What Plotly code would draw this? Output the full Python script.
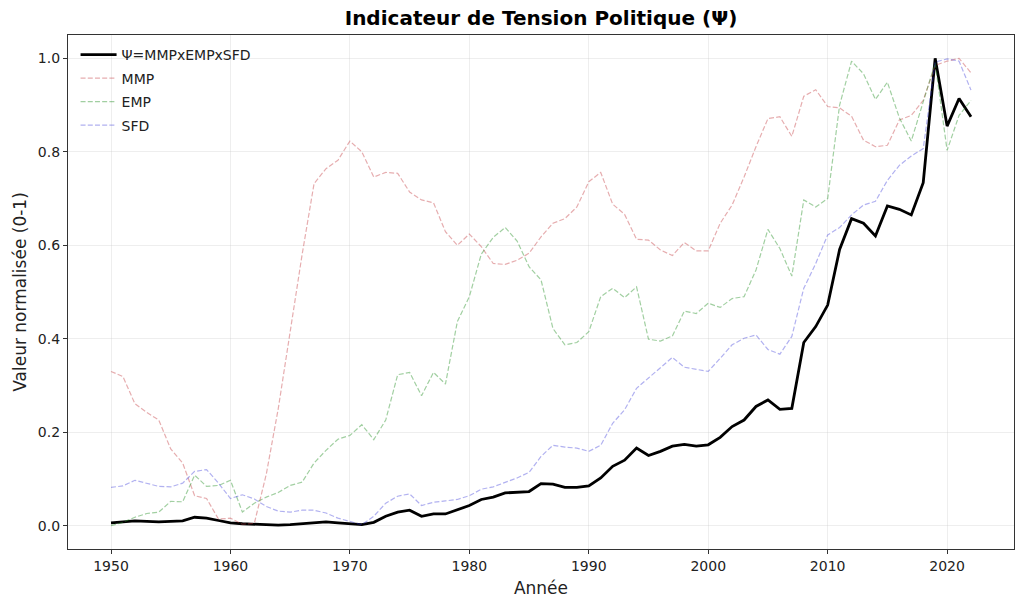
import plotly.graph_objects as go

years = list(range(1950, 2023))

mmp = [0.330, 0.319, 0.261, 0.242, 0.226, 0.164, 0.134, 0.064, 0.058, 0.014,
       0.016, 0.003, 0.005, 0.110, 0.250, 0.420, 0.580, 0.732, 0.764, 0.782,
       0.823, 0.800, 0.746, 0.756, 0.754, 0.714, 0.697, 0.691, 0.629, 0.600,
       0.624, 0.597, 0.561, 0.559, 0.568, 0.583, 0.618, 0.647, 0.657, 0.682,
       0.736, 0.756, 0.688, 0.666, 0.613, 0.611, 0.590, 0.578, 0.606, 0.588,
       0.588, 0.647, 0.686, 0.746, 0.811, 0.871, 0.875, 0.833, 0.919, 0.933,
       0.897, 0.894, 0.876, 0.825, 0.811, 0.814, 0.868, 0.878, 0.910, 0.985,
       0.994, 1.000, 0.969]

emp = [0.000, 0.007, 0.018, 0.026, 0.029, 0.052, 0.051, 0.108, 0.084, 0.086,
       0.097, 0.029, 0.048, 0.061, 0.071, 0.086, 0.093, 0.134, 0.161, 0.185,
       0.193, 0.216, 0.184, 0.226, 0.323, 0.328, 0.278, 0.328, 0.303, 0.437,
       0.490, 0.581, 0.617, 0.638, 0.609, 0.554, 0.526, 0.422, 0.387, 0.392,
       0.415, 0.490, 0.508, 0.488, 0.511, 0.399, 0.395, 0.406, 0.459, 0.454,
       0.476, 0.467, 0.486, 0.490, 0.547, 0.634, 0.593, 0.534, 0.697, 0.682,
       0.700, 0.900, 0.994, 0.967, 0.912, 0.949, 0.873, 0.823, 0.907, 0.990,
       0.803, 0.878, 0.910]

sfd = [0.082, 0.085, 0.097, 0.090, 0.084, 0.083, 0.091, 0.116, 0.120, 0.091,
       0.058, 0.066, 0.057, 0.041, 0.031, 0.029, 0.033, 0.033, 0.027, 0.016,
       0.009, 0.002, 0.020, 0.048, 0.063, 0.068, 0.043, 0.050, 0.053, 0.056,
       0.064, 0.078, 0.083, 0.093, 0.102, 0.114, 0.148, 0.172, 0.168, 0.166,
       0.159, 0.172, 0.219, 0.248, 0.294, 0.316, 0.339, 0.360, 0.339, 0.335,
       0.330, 0.358, 0.387, 0.401, 0.408, 0.377, 0.367, 0.405, 0.508, 0.561,
       0.622, 0.638, 0.665, 0.686, 0.694, 0.739, 0.771, 0.791, 0.807, 0.992,
       0.999, 0.994, 0.932]

psi = [0.006, 0.008, 0.010, 0.009, 0.008, 0.009, 0.010, 0.018, 0.016, 0.011,
       0.006, 0.004, 0.003, 0.002, 0.001, 0.002, 0.004, 0.007, 0.008, 0.006,
       0.004, 0.002, 0.007, 0.020, 0.029, 0.033, 0.020, 0.025, 0.025, 0.034,
       0.043, 0.056, 0.061, 0.070, 0.071, 0.073, 0.090, 0.089, 0.082, 0.082,
       0.085, 0.102, 0.127, 0.140, 0.166, 0.150, 0.159, 0.170, 0.174, 0.170,
       0.173, 0.189, 0.212, 0.226, 0.255, 0.269, 0.249, 0.251, 0.392, 0.426,
       0.472, 0.591, 0.657, 0.647, 0.620, 0.684, 0.677, 0.665, 0.734, 1.000,
       0.855, 0.914, 0.875]

x_ticks = [1950, 1960, 1970, 1980, 1990, 2000, 2010, 2020]
y_ticks = [0.0, 0.2, 0.4, 0.6, 0.8, 1.0]

FONT = "DejaVu Sans"
DASH = "5px,2.2px"
fig = go.Figure()
fig.add_trace(go.Scatter(x=years, y=psi, mode="lines", name="Ψ=MMPxEMPxSFD", legendgroup="psi",
                         line=dict(color="black", width=2.8)))
fig.add_trace(go.Scatter(x=years, y=mmp, mode="lines", name="MMP", legendgroup="mmp",
                         line=dict(color="rgba(195,60,65,0.42)", width=1.2, dash=DASH)))
fig.add_trace(go.Scatter(x=years, y=emp, mode="lines", name="EMP", legendgroup="emp",
                         line=dict(color="rgba(30,140,30,0.42)", width=1.2, dash=DASH)))
fig.add_trace(go.Scatter(x=years, y=sfd, mode="lines", name="SFD", legendgroup="sfd",
                         line=dict(color="rgba(50,50,215,0.38)", width=1.2, dash=DASH)))

axis_common = dict(showline=True, linecolor="#333333", linewidth=1.2, mirror=True,
                   ticks="outside", ticklen=4, tickcolor="#333333", automargin=False,
                   showgrid=True, gridcolor="rgba(200,200,200,0.3)", gridwidth=1,
                   zeroline=False, tickfont=dict(family=FONT, size=14, color="#222222"))

fig.update_layout(
    width=1024, height=608,
    margin=dict(l=68, r=10, t=35, b=59),
    paper_bgcolor="white", plot_bgcolor="white",
    title=dict(text="<b>Indicateur de Tension Politique (Ψ)</b>", x=0.5, xanchor="center",
               xref="paper", y=1 - 18 / 608, yanchor="middle",
               font=dict(family=FONT, size=20, color="black")),
    font=dict(family=FONT, color="#222222"),
    legend=dict(x=0.008, y=0.992, xanchor="left", yanchor="top", bgcolor="rgba(255,255,255,0)",
                font=dict(family=FONT, size=14, color="#222222"), tracegroupgap=2.3,
                itemwidth=36),
    xaxis=dict(range=[1946.4, 2025.6], tickvals=x_ticks,
               title=dict(text="Année", font=dict(family=FONT, size=17), standoff=9), **axis_common),
    yaxis=dict(range=[-0.05, 1.05], tickvals=y_ticks, tickformat=".1f",
               title=dict(text="Valeur normalisée (0-1)", font=dict(family=FONT, size=17), standoff=6),
               **axis_common),
)

fig.write_html("out.html", config={"displayModeBar": False},
               post_script="document.body.style.margin='0';")
